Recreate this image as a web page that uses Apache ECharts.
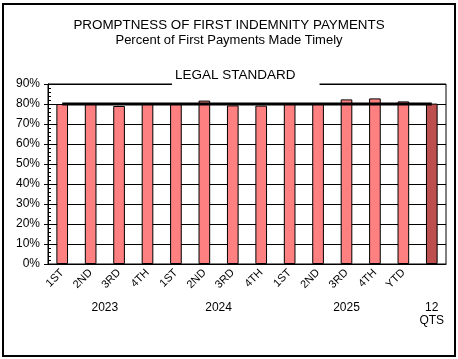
<!DOCTYPE html>
<html><head><meta charset="utf-8">
<script src="https://cdn.jsdelivr.net/npm/echarts@6/dist/echarts.min.js"></script>
<style>html,body{margin:0;padding:0;background:#fff}#c{width:458px;height:359px}</style>
</head><body><div id="c"></div>
<script>
var quarters = ['1ST','2ND','3RD','4TH','1ST','2ND','3RD','4TH','1ST','2ND','3RD','4TH','YTD',''];
var values = [80, 80, 79, 80, 80, 81.7, 79.3, 79.2, 80, 80, 82.3, 82.8, 81.3, 80.2];
var standard = [80,80,80,80,80,80,80,80,80,80,80,80,80,80];
var groupLabels = {2: '2023', 6: '2024', 10.5: '2025', 13.5: '12\nQTS'};
var yTicks = {min: 0, max: 90, interval: 10};

var font = 'Arial, "Liberation Sans", sans-serif';
var chart = echarts.init(document.getElementById('c'), null, {renderer: 'canvas'});
var barData = values.map(function (v, i) {
  return i === values.length - 1 ? {value: v, itemStyle: {color: '#BE4F4F'}} : v;
});
chart.setOption({
  animation: false,
  title: [
    {text: 'PROMPTNESS OF FIRST INDEMNITY PAYMENTS', left: 'center', top: 14,
     textStyle: {fontFamily: font, fontSize: 13.4, fontWeight: 'normal', color: '#000'}},
    {text: 'Percent of First Payments Made Timely', left: 'center', top: 29,
     textStyle: {fontFamily: font, fontSize: 13, fontWeight: 'normal', color: '#000'}},
    {text: 'LEGAL STANDARD', left: 172, top: 66, backgroundColor: '#fff', padding: [2, 24, 4, 3],
     textStyle: {fontFamily: font, fontSize: 13.5, fontWeight: 'normal', color: '#000'}}
  ],
  graphic: [{type: 'rect', shape: {x: 3, y: 4, width: 452, height: 352}, z: -1,
             style: {fill: 'none', stroke: '#000', lineWidth: 2}}],
  grid: {left: 48, right: 12, top: 84, bottom: 95, show: true, borderColor: '#000', borderWidth: 1, z: 0},
  xAxis: [
    {type: 'category', data: quarters, boundaryGap: true,
     axisLine: {lineStyle: {color: '#000', width: 1}}, axisTick: {show: false},
     axisLabel: {rotate: 45, interval: 0, fontFamily: font, fontSize: 11, color: '#000', margin: 7}},
    {type: 'value', min: 0, max: 14, interval: 0.5, position: 'bottom', gridIndex: 0,
     axisLine: {show: false}, axisTick: {show: false}, splitLine: {show: false},
     axisLabel: {show: true, margin: 37, verticalAlign: 'top', lineHeight: 13, fontFamily: font, fontSize: 12, color: '#000',
       showMinLabel: true, showMaxLabel: true,
       formatter: function (v) { return groupLabels[v] || ''; }}}
  ],
  yAxis: [
    {type: 'value', min: yTicks.min, max: yTicks.max, interval: yTicks.interval,
     axisLine: {show: true, lineStyle: {color: '#000'}},
     axisTick: {show: true, inside: true, length: 4, lineStyle: {color: '#000'}},
     minorTick: {show: true, splitNumber: 5, length: 3, lineStyle: {color: '#000'}},
     splitLine: {show: true, lineStyle: {color: '#000', width: 1}},
     axisLabel: {formatter: '{value}%', fontFamily: font, fontSize: 12, color: '#000', margin: 8}},
    {type: 'value', min: yTicks.min, max: yTicks.max, interval: yTicks.interval, position: 'left',
     axisLine: {show: false}, axisTick: {show: true, inside: false, length: 4, lineStyle: {color: '#000'}},
     splitLine: {show: false}, axisLabel: {show: false}}
  ],
  series: [
    {type: 'bar', data: barData, barWidth: '41%', z: 3,
     itemStyle: {color: '#FF8080', borderColor: '#000', borderWidth: 1}},
    {type: 'line', data: standard, symbol: 'none', z: 4,
     lineStyle: {color: '#000', width: 3}}
  ]
});
</script></body></html>
